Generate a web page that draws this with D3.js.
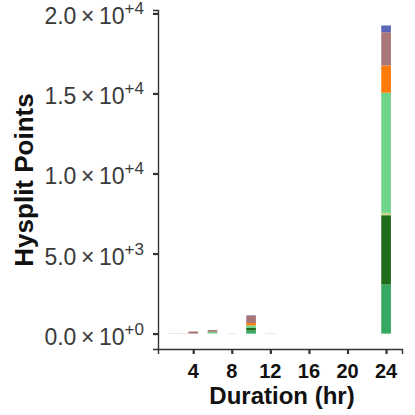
<!DOCTYPE html>
<html><head><meta charset="utf-8">
<script src="https://cdn.jsdelivr.net/npm/d3@7"></script>
<style>body{margin:0;background:#fff;}svg{display:block;font-family:"Liberation Sans",Arial,sans-serif;}</style>
</head><body><svg id="c" width="415" height="415"></svg>
<script>
const hours = [2, 3, 4, 6, 8, 10, 12, 24];
const seriesNames = ["S1", "S2", "S3", "S4", "S5", "S6", "S7"];
const seriesColors = ["#35a862", "#1f6b1a", "#c9d48a", "#6fd58a", "#ff7b0a", "#a87676", "#5a66b5"];
// values per series, aligned with hours
const S1 = [0, 0, 0, 0, 0, 200, 0, 3063];
const S2 = [0, 0, 0, 0, 0, 150, 0, 4331];
const S3 = [0, 0, 0, 0, 0, 0, 0, 150];
const S4 = [0, 0, 0, 110, 15, 160, 0, 7500];
const S5 = [0, 0, 0, 0, 0, 150, 0, 1700];
const S6 = [12, 12, 130, 110, 0, 450, 12, 2080];
const S7 = [0, 0, 0, 0, 0, 30, 0, 420];
const xTicks = [4, 8, 12, 16, 20, 24];
const yTicks = [0, 5000, 10000, 15000, 20000];
const yTickMant = ["0.0", "5.0", "1.0", "1.5", "2.0"];
const yTickExp = ["+0", "+3", "+4", "+4", "+4"];

const svg = d3.select("#c");
const L = 158, R = 402, T = 10, B = 349;
const x = d3.scaleLinear().domain([0.35, 25.65]).range([L, R]);
const y = d3.scaleLinear().domain([-962, 20212]).range([B, T]);

const rows = hours.map((h, i) => {
  const r = {hour: h};
  [S1, S2, S3, S4, S5, S6, S7].forEach((s, j) => r[seriesNames[j]] = s[i]);
  return r;
});
const stack = d3.stack().keys(seriesNames)(rows);
const bw = 1.0;
svg.append("g").selectAll("g").data(stack).join("g")
  .attr("fill", (d, i) => seriesColors[i])
  .selectAll("rect").data(d => d).join("rect")
  .attr("x", d => x(d.data.hour - bw / 2))
  .attr("width", d => x(d.data.hour + bw / 2) - x(d.data.hour - bw / 2))
  .attr("y", d => y(d[1]))
  .attr("height", d => Math.max(0, y(d[0]) - y(d[1])));

// axes
const gy = svg.append("g").attr("transform", `translate(${L},0)`)
  .call(d3.axisLeft(y).tickValues(yTicks).tickSize(5).tickFormat(""));
const gx = svg.append("g").attr("transform", `translate(0,${B})`)
  .call(d3.axisBottom(x).tickValues(xTicks).tickSize(5).tickFormat(""));
[gy, gx].forEach(g => {
  g.select(".domain").attr("stroke", "#333").attr("stroke-width", 1.4);
  g.selectAll(".tick line").attr("stroke", "#333").attr("stroke-width", 2.2);
});
// y tick labels
yTicks.forEach((v, i) => {
  const t = svg.append("text").attr("x", 144).attr("y", y(v) + 11)
    .attr("text-anchor", "end").attr("fill", "#3a3a3a").attr("font-size", 23);
  t.append("tspan").text(yTickMant[i] + "\u2009\u00d7\u200910");
  t.append("tspan").attr("dy", -10).attr("font-size", 17).text(yTickExp[i]);
});
// x tick labels
xTicks.forEach(v => {
  svg.append("text").attr("x", x(v)).attr("y", B + 29).attr("text-anchor", "middle")
    .attr("font-size", 20).attr("font-weight", "bold").attr("fill", "#111").text(v);
});
svg.append("text").attr("x", 282).attr("y", 404).attr("text-anchor", "middle")
  .attr("font-size", 24).attr("font-weight", "bold").attr("fill", "#111").text("Duration (hr)");
svg.append("text").attr("transform", `translate(33,180) rotate(-90)`).attr("text-anchor", "middle")
  .attr("font-size", 26).attr("font-weight", "bold").attr("fill", "#111").text("Hysplit Points");
</script></body></html>
